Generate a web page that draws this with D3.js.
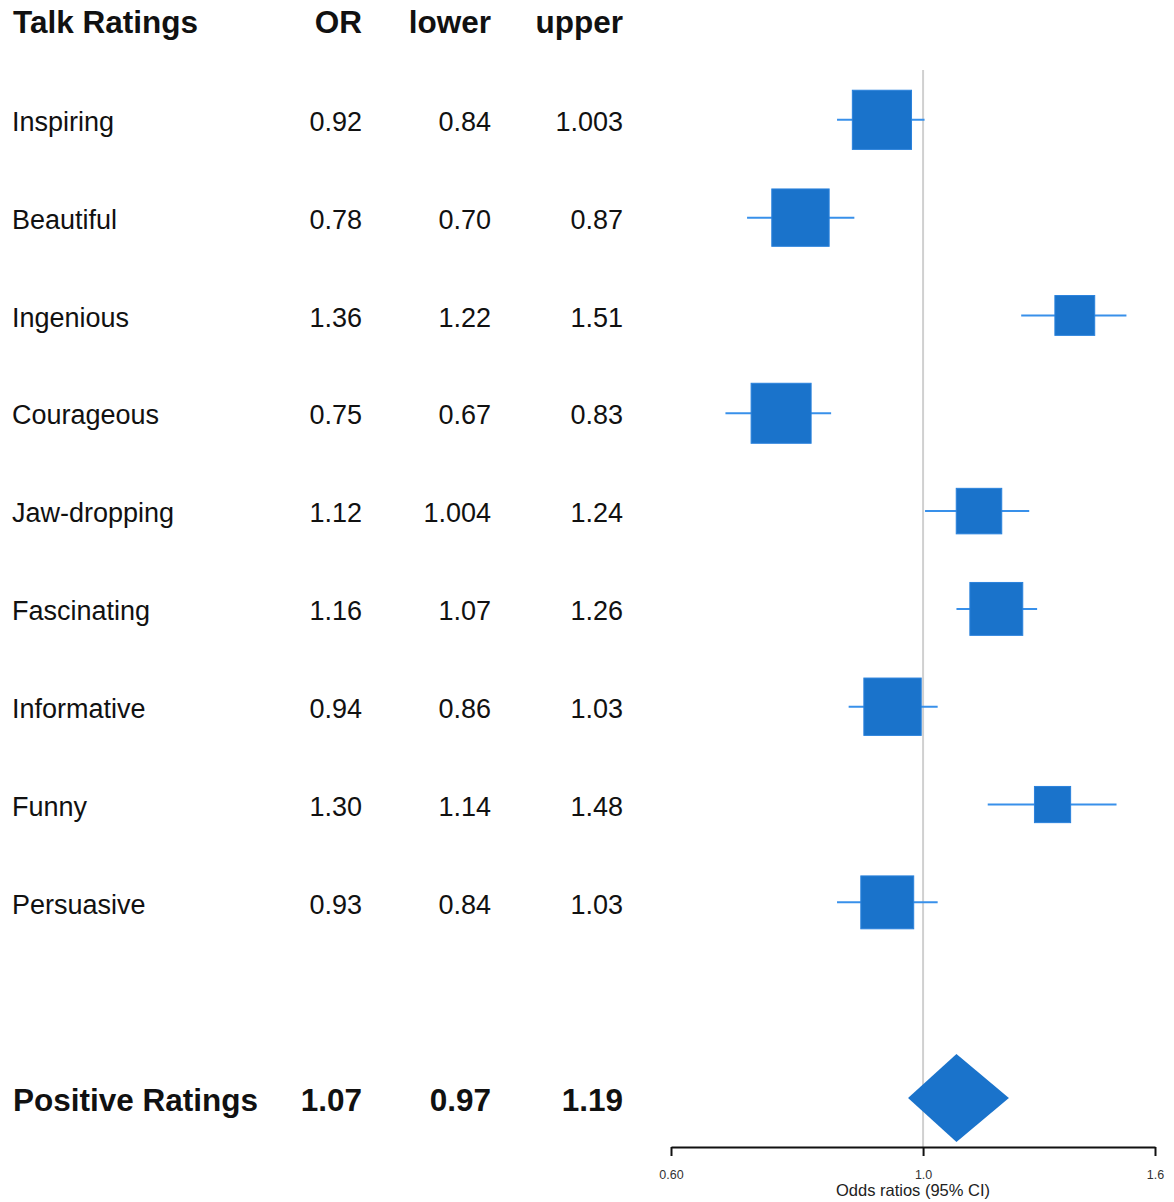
<!DOCTYPE html>
<html>
<head>
<meta charset="utf-8">
<script src="https://cdn.jsdelivr.net/npm/d3@7"></script>
<style>
  html, body { margin: 0; padding: 0; background: #fff; }
  svg { display: block; font-family: "Liberation Sans", Arial, sans-serif; }
</style>
</head>
<body>
<svg id="chart" width="1174" height="1202"></svg>
<script>
// Talk ratings: odds ratios with 95% confidence intervals
const ratings = ["Inspiring", "Beautiful", "Ingenious", "Courageous", "Jaw-dropping",
                 "Fascinating", "Informative", "Funny", "Persuasive"];
const orValues    = [0.92, 0.78, 1.36, 0.75, 1.12, 1.16, 0.94, 1.30, 0.93];
const lowerValues = [0.84, 0.70, 1.22, 0.67, 1.004, 1.07, 0.86, 1.14, 0.84];
const upperValues = [1.003, 0.87, 1.51, 0.83, 1.24, 1.26, 1.03, 1.48, 1.03];
const orLabels    = ["0.92", "0.78", "1.36", "0.75", "1.12", "1.16", "0.94", "1.30", "0.93"];
const lowerLabels = ["0.84", "0.70", "1.22", "0.67", "1.004", "1.07", "0.86", "1.14", "0.84"];
const upperLabels = ["1.003", "0.87", "1.51", "0.83", "1.24", "1.26", "1.03", "1.48", "1.03"];

// Pooled summary row
const summaryLabel = "Positive Ratings";
const summaryValues = [1.07, 0.97, 1.19];      // OR, lower, upper
const summaryLabels = ["1.07", "0.97", "1.19"];

const headers = ["Talk Ratings", "OR", "lower", "upper"];
const tickValues = [0.6, 1.0, 1.6];
const tickLabels = ["0.60", "1.0", "1.6"];
const axisTitle = "Odds ratios (95% CI)";

const svg = d3.select("#chart");

// Row positions: header = -1, studies 0..8, summary = 10
const y = d3.scaleLinear().domain([-1, 10]).range([22, 1098]);
const summaryRow = 10;

// Log-scaled odds ratio axis
const x = d3.scaleLog().domain([0.6, 1.6]).range([671, 1155]);
const axisY = 1147;

// Table columns
const colLabelX = 13;
const colRight = [362, 491, 623];

const textColor = "#111";
const boxColor = "#1a73cb";
const lineColor = "#3890ea";

// Header row
const head = svg.append("g").attr("font-weight", "bold").attr("font-size", 31.5).attr("fill", textColor);
head.append("text").attr("x", colLabelX).attr("y", y(-1)).attr("dy", "0.36em").text(headers[0]);
headers.slice(1).forEach((h, i) => {
  head.append("text").attr("x", colRight[i]).attr("y", y(-1)).attr("dy", "0.36em")
    .attr("text-anchor", "end").text(h);
});

// Study rows
const rows = svg.append("g").attr("font-size", 27).attr("fill", textColor);
ratings.forEach((r, i) => {
  rows.append("text").attr("x", colLabelX - 1).attr("y", y(i) + 1.5).attr("dy", "0.36em").text(r);
  [orLabels[i], lowerLabels[i], upperLabels[i]].forEach((t, j) => {
    rows.append("text").attr("x", colRight[j]).attr("y", y(i) + 1.5).attr("dy", "0.36em")
      .attr("text-anchor", "end").text(t);
  });
});

// Summary row text
const sum = svg.append("g").attr("font-weight", "bold").attr("font-size", 31.5).attr("fill", textColor);
sum.append("text").attr("x", colLabelX).attr("y", y(summaryRow) + 1.5).attr("dy", "0.36em").text(summaryLabel);
summaryLabels.forEach((t, j) => {
  sum.append("text").attr("x", colRight[j]).attr("y", y(summaryRow) + 1.5).attr("dy", "0.36em")
    .attr("text-anchor", "end").text(t);
});

// Reference line at OR = 1
svg.append("line")
  .attr("x1", x(1)).attr("x2", x(1))
  .attr("y1", 70).attr("y2", axisY)
  .attr("stroke", "#d0d0d0").attr("stroke-width", 2);

// Box size grows with precision (inverse CI width)
const info = ratings.map((_, i) => 1 / (upperValues[i] - lowerValues[i]));
const maxInfo = d3.max(info);
const boxSize = d3.scaleLinear().domain([0, 1]).range([15, 60]);

const marks = svg.append("g");
ratings.forEach((r, i) => {
  const cy = y(i);
  marks.append("line")
    .attr("x1", x(lowerValues[i])).attr("x2", x(upperValues[i]))
    .attr("y1", cy).attr("y2", cy)
    .attr("stroke", lineColor).attr("stroke-width", 2);
  const s = boxSize(info[i] / maxInfo);
  marks.append("rect")
    .attr("x", x(orValues[i]) - s / 2).attr("y", cy - s / 2)
    .attr("width", s).attr("height", s)
    .attr("fill", boxColor)
    .attr("stroke", "#2a82dc").attr("stroke-width", 1);
});

// Summary diamond
const dy = y(summaryRow);
const half = 44;
marks.append("path")
  .attr("d", d3.line()([
    [x(summaryValues[1]), dy],
    [x(summaryValues[0]), dy - half],
    [x(summaryValues[2]), dy],
    [x(summaryValues[0]), dy + half]
  ]) + "Z")
  .attr("fill", boxColor);

// Bottom axis
const axis = d3.axisBottom(x)
  .tickValues(tickValues)
  .tickFormat((d, i) => tickLabels[i])
  .tickSize(9)
  .tickSizeOuter(0)
  .tickPadding(14);

const ax = svg.append("g").attr("transform", `translate(0,${axisY})`).call(axis);
ax.select(".domain").attr("stroke", "#111").attr("stroke-width", 2);
ax.selectAll(".tick line").attr("stroke", "#111").attr("stroke-width", 2);
ax.selectAll(".tick text").attr("font-size", 12.5).attr("fill", "#333")
  .attr("font-family", "'Liberation Sans', Arial, sans-serif");

svg.append("text")
  .attr("x", (x.range()[0] + x.range()[1]) / 2)
  .attr("y", 1196)
  .attr("text-anchor", "middle")
  .attr("font-size", 16.5)
  .attr("fill", "#222")
  .text(axisTitle);
</script>
</body>
</html>
